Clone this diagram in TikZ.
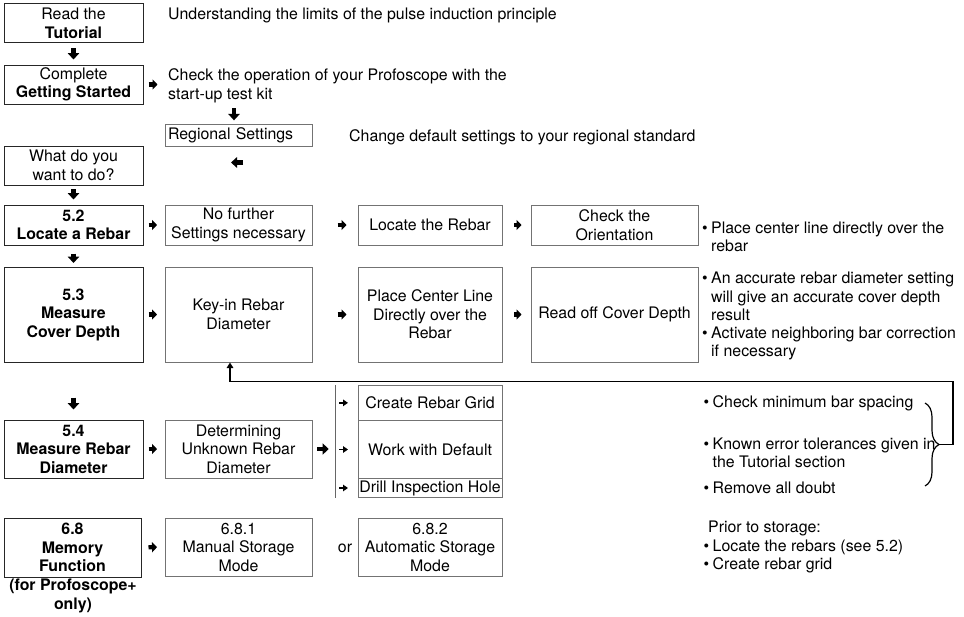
\documentclass[tikz,border=0pt]{standalone}
\usepackage{fontspec}
\setmainfont{TeX Gyre Heros}
\usetikzlibrary{arrows.meta,calc,decorations.pathreplacing}
\newcommand{\bl}{\makebox[9pt][l]{\textbullet}}
\newcommand{\bi}{\hspace*{9pt}}
\begin{document}
\begin{tikzpicture}[x=1pt,y=-1pt,
  lbl/.style={font=\fontsize{15.9}{18.5}\selectfont, text=black},
  mbox/.style={lbl, draw=black!85, line width=1pt, align=center, inner sep=1pt},
  sbox/.style={lbl, draw=black!55, line width=1pt, align=center, inner sep=1pt},
  txt/.style={lbl, inner sep=0pt, align=left, anchor=west},
  varr/.style={line width=4.6pt, -{Triangle[width=11.5pt,length=6.5pt]}},
  harr/.style={line width=4.2pt, -{Triangle[width=10pt,length=5pt]}},
  bigarr/.style={line width=4.5pt, -{Triangle[width=11pt,length=6pt]}},
  tarr/.style={line width=1.3pt, -{Triangle[width=6.5pt,length=5pt]}},
  fb/.style={line width=1.5pt, -{Triangle[width=6.5pt,length=5.5pt]}},
  vline/.style={draw=black!60, line width=0.9pt},
  brc/.style={line width=1.2pt, decorate, decoration={brace, amplitude=14pt}}
]
\path[use as bounding box] (0,0) rectangle (964,616);

% left column
\node[mbox, minimum width=139pt, minimum height=38.7pt] (tut) at (73.5,23.3) {Read the\\\textbf{Tutorial}};
\node[mbox, minimum width=139pt, minimum height=39pt] (gs) at (73.5,84.5) {Complete\\\textbf{Getting Started}};
\node[mbox, minimum width=139pt, minimum height=39pt] (what) at (73.5,165.5) {What do you\\want to do?};
\node[mbox, minimum width=139pt, minimum height=40pt] (loc52) at (73.5,225) {\textbf{5.2}\\\textbf{Locate a Rebar}};
\node[mbox, minimum width=139pt, minimum height=95pt] (m53) at (73.5,314.5) {\textbf{5.3}\\\textbf{Measure}\\\textbf{Cover Depth}};
\node[mbox, minimum width=139pt, minimum height=58pt] (m54) at (73.5,449) {\textbf{5.4}\\\textbf{Measure Rebar}\\\textbf{Diameter}};
\node[mbox, minimum width=137pt, minimum height=59pt] (m68) at (72.5,547.5) {\textbf{6.8}\\\textbf{Memory}\\\textbf{Function}};
\node[lbl, align=center, inner sep=0pt] (only) at (73,596) {\textbf{(for Profoscope+}\\\textbf{only)}};

% texts at top
\node[txt] (und) at (168,15) {Understanding the limits of the pulse induction principle};
\node[txt] (chk) at (168,86) {Check the operation of your Profoscope with the\\start-up test kit};
\node[sbox, text width=141pt, align=left, inner sep=3pt, minimum height=21pt] (reg) at (238.5,135.5) {Regional Settings};
\node[txt] (chg) at (349,137) {Change default settings to your regional standard};

% second column and beyond
\node[sbox, minimum width=147pt, minimum height=40pt] (nof) at (238.5,225) {No further\\Settings necessary};
\node[sbox, minimum width=144pt, minimum height=40pt] (locate) at (430,225) {Locate the Rebar};
\node[sbox, minimum width=167pt, minimum height=40pt] (orient) at (614.5,225) {Check the\\Orientation};

\node[sbox, minimum width=147pt, minimum height=95pt] (keyin) at (238.5,314.5) {Key-in Rebar\\Diameter};
\node[sbox, minimum width=144pt, minimum height=95pt] (place) at (430,314.5) {Place Center Line\\Directly over the\\Rebar};
\node[sbox, minimum width=167pt, minimum height=95pt] (readoff) at (614.5,314.5) {Read off Cover Depth};

\node[sbox, minimum width=147pt, minimum height=58pt] (determ) at (238.5,449) {Determining\\Unknown Rebar\\Diameter};
\node[sbox, minimum width=144pt, minimum height=35.7pt] (grid) at (430,402.85) {Create Rebar Grid};
\node[sbox, minimum width=144pt, minimum height=57.6pt] (default) at (430,449.5) {Work with Default};
\node[sbox, minimum width=144pt, minimum height=19.4pt, inner sep=0pt] (drill) at (430,488) {Drill Inspection Hole};

\node[sbox, minimum width=147pt, minimum height=58pt] (man) at (238.5,547) {6.8.1\\Manual Storage\\Mode};
\node[lbl, inner sep=0pt] (or) at (345,548) {or};
\node[sbox, minimum width=144pt, minimum height=58pt] (auto) at (430,547) {6.8.2\\Automatic Storage\\Mode};

% bullet texts
\node[txt] (b1) at (702,237) {\bl Place center line directly over the\\\bi rebar};
\node[txt] (b2) at (702,296.5) {\bl An accurate rebar diameter setting\\\bi will give an accurate cover depth\\\bi result};
\node[txt] (b3) at (702,343.5) {\bl Activate neighboring bar correction\\\bi if necessary};
\node[txt] (c1) at (703.5,403) {\bl Check minimum bar spacing};
\node[txt] (c2) at (703.5,453) {\bl Known error tolerances given in\\\bi the Tutorial section};
\node[txt] (c3) at (703.5,488) {\bl Remove all doubt};
\node[txt] (pr) at (703.5,547) {\hspace*{4.5pt}Prior to storage:\\\bl Locate the rebars (see 5.2)\\\bl Create rebar grid};

% block arrows
\draw[varr, shorten <=5pt, shorten >=5pt] (tut.south) -- (gs.north);
\draw[harr, shorten <=5pt, shorten >=10.5pt] (gs.east) -- (gs.east -| chk.west);
\draw[varr, shorten <=5pt, shorten >=4pt] ([xshift=-4.5pt]reg.north |- chk.south) -- ([xshift=-4.5pt]reg.north);
\draw[line width=4.5pt, -{Triangle[width=10.5pt,length=6pt]}] ($(what.east)+(99.5,-3)$) -- ($(what.east)+(87.5,-3)$);
\draw[varr, shorten <=3.5pt, shorten >=5pt] (what.south) -- (loc52.north);
\draw[harr, shorten <=5pt, shorten >=7.5pt] (loc52.east) -- (nof.west);
\draw[harr, shorten <=25pt, shorten >=11pt] (nof.east) -- (locate.west);
\draw[harr, shorten <=11.5pt, shorten >=9pt] (locate.east) -- (orient.west);
\draw[varr, shorten <=8pt, shorten >=3.5pt] (loc52.south) -- (m53.north);
\draw[harr, shorten <=5pt, shorten >=7.5pt] (m53.east) -- (keyin.west);
\draw[harr, shorten <=25pt, shorten >=11pt] (keyin.east) -- (place.west);
\draw[harr, shorten <=11.5pt, shorten >=9pt] (place.east) -- (readoff.west);
\draw[varr, shorten <=35pt, shorten >=10pt] (m53.south) -- (m54.north);
\draw[harr, shorten <=5pt, shorten >=7.5pt] (m54.east) -- (determ.west);
\draw[harr, shorten <=7pt, shorten >=7.5pt] (m68.east) -- (man.west);

% branch to grid/default/drill
\coordinate (vt) at (335.7,385);
\coordinate (vb) at (335.7,497.7);
\draw[vline] (vt) -- (vb);
\draw[bigarr, shorten <=4.5pt, shorten >=7pt] (determ.east) -- (determ.east -| vt);
\draw[tarr, shorten <=3.5pt, shorten >=9.5pt] (vt |- grid.west) -- (grid.west);
\draw[tarr, shorten <=3.5pt, shorten >=9.5pt] (vt |- default.west) -- (default.west);
\draw[tarr, shorten <=3.5pt, shorten >=9.5pt] (vt |- drill.west) -- (drill.west);

% brace and feedback line
\draw[brc] (925,403) -- (925,486);
\coordinate (bt) at (939,444.5);
\draw[fb] (bt) -- ++(14,0) |- ($(keyin.south)+(-8.5,19)$) -- ([xshift=-8.5pt]keyin.south);
\end{tikzpicture}
\end{document}
